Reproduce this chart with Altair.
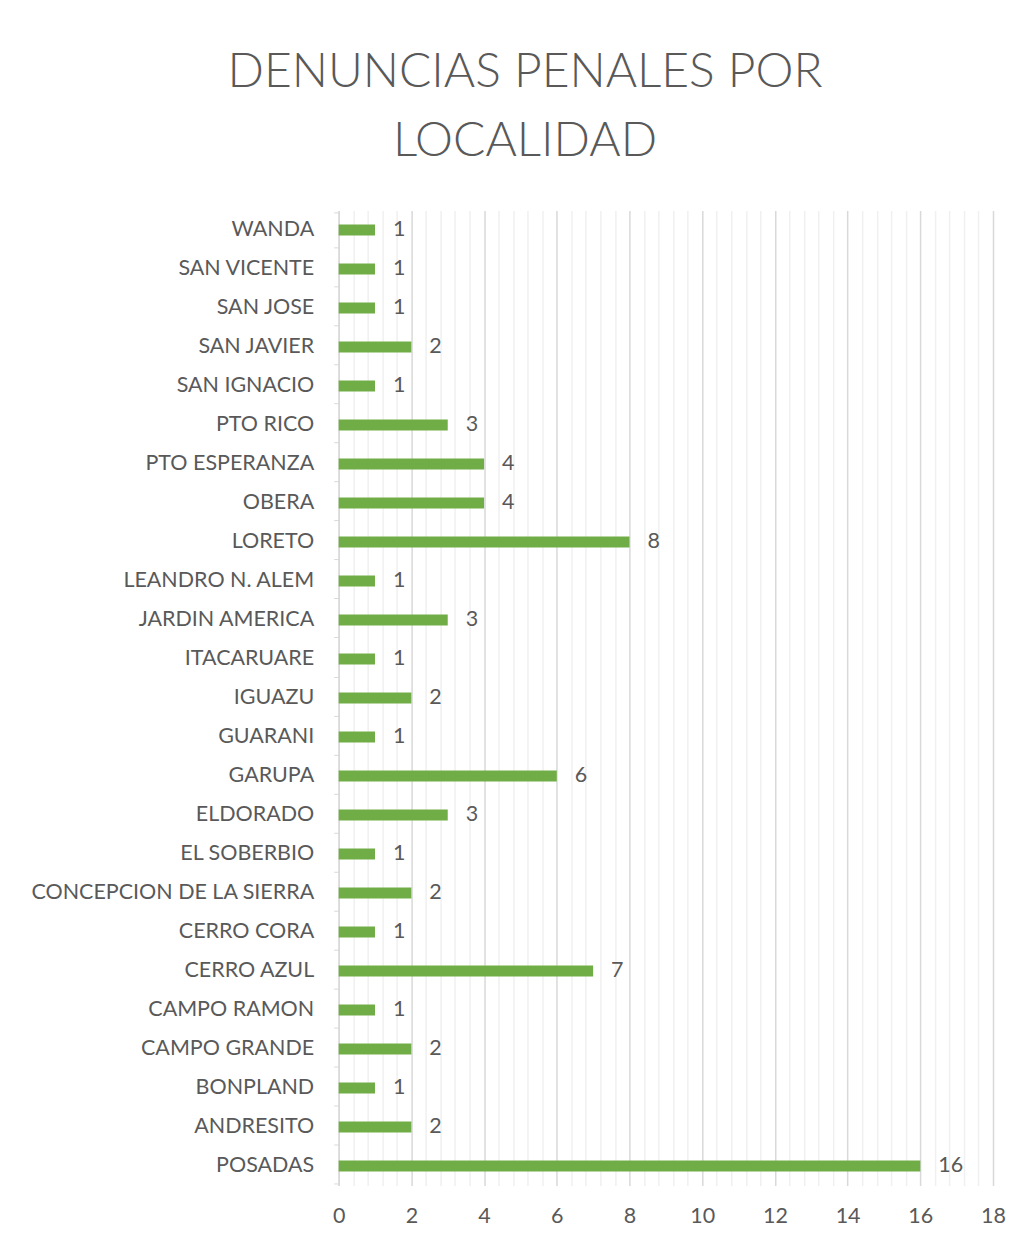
import altair as alt
import pandas as pd

localidades = ["WANDA", "SAN VICENTE", "SAN JOSE", "SAN JAVIER", "SAN IGNACIO",
               "PTO RICO", "PTO ESPERANZA", "OBERA", "LORETO", "LEANDRO N. ALEM",
               "JARDIN AMERICA", "ITACARUARE", "IGUAZU", "GUARANI", "GARUPA",
               "ELDORADO", "EL SOBERBIO", "CONCEPCION DE LA SIERRA", "CERRO CORA",
               "CERRO AZUL", "CAMPO RAMON", "CAMPO GRANDE", "BONPLAND", "ANDRESITO",
               "POSADAS"]
denuncias = [1, 1, 1, 2, 1, 3, 4, 4, 8, 1, 3, 1, 2, 1, 6, 3, 1, 2, 1, 7, 1, 2, 1, 2, 16]

df = pd.DataFrame({"localidad": localidades, "n": denuncias})

tick_vals = [round(i * 0.4, 1) for i in range(46)]
major_test = "round(datum.value*10) % 20 === 0"
FS = 21.5

x = alt.X("n:Q", scale=alt.Scale(domain=[0, 18], nice=False),
          axis=alt.Axis(title=None, values=tick_vals, tickCount=200, domain=False, ticks=False,
                        labelExpr=f"{major_test} ? format(datum.value, 'd') : ''",
                        labelOverlap=False, labelFlush=False, labelFont="Lato", labelFontSize=FS,
                        labelColor="#595959", labelPadding=20,
                        grid=True,
                        gridColor={"condition": {"test": major_test, "value": "#D9D9D9"},
                                   "value": "#F0F0F0"},
                        gridWidth=1.5))
y = alt.Y("localidad:N", sort=localidades,
          axis=alt.Axis(title=None, labelFont="Lato", labelFontSize=FS,
                        labelColor="#595959", labelPadding=20, tickBand="extent",
                        tickSize=5, tickColor="#D9D9D9", domainColor="#D9D9D9",
                        domainWidth=1.5, labelLimit=400,
                        minExtent=331, maxExtent=331))

bars = alt.Chart(df).mark_bar(color="#70AD47", size=11).encode(x=x, y=y)
labels = alt.Chart(df).mark_text(align="left", baseline="middle", dx=18,
                                 font="Lato", fontSize=FS, color="#595959").encode(
    x="n:Q", y=alt.Y("localidad:N", sort=localidades), text="n:Q")

chart = (bars + labels).properties(
    width=655, height=976,
    background="white",
    title=alt.Title(["DENUNCIAS PENALES POR", "LOCALIDAD"], font="Lato",
                    fontSize=48, fontWeight=300, color="#595959", lineHeight=70,
                    anchor="middle", dx=-141, offset=33),
    padding={"left": 0, "top": 40, "right": 10, "bottom": 10},
).configure_view(stroke=None)

chart.save("out.html", embed_options={"renderer": "svg", "actions": False})
